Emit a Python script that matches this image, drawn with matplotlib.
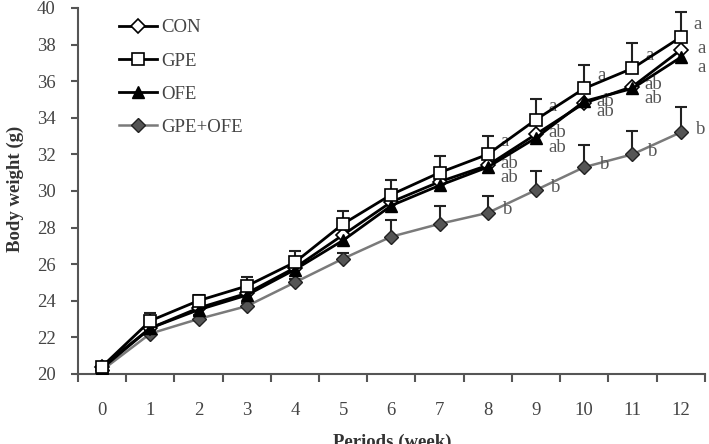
import matplotlib.pyplot as plt
import numpy as np

weeks = np.arange(0, 13)

con = [20.4, 22.5, 23.6, 24.4, 25.8, 27.6, 29.4, 30.5, 31.4, 33.1, 34.8, 35.7, 37.7]
gpe = [20.4, 22.9, 24.0, 24.8, 26.1, 28.2, 29.8, 31.0, 32.0, 33.9, 35.6, 36.7, 38.4]
ofe = [20.3, 22.5, 23.5, 24.3, 25.7, 27.3, 29.2, 30.3, 31.3, 32.9, 34.9, 35.6, 37.3]
gpe_ofe = [20.2, 22.2, 23.0, 23.7, 25.0, 26.3, 27.5, 28.2, 28.8, 30.05, 31.3, 32.0, 33.2]

gpe_err = [0.2, 0.4, 0.3, 0.5, 0.6, 0.7, 0.8, 0.9, 1.0, 1.1, 1.3, 1.4, 1.4]
gpe_ofe_err = [0.1, 0.2, 0.2, 0.2, 0.2, 0.3, 0.9, 0.95, 0.9, 1.05, 1.2, 1.3, 1.4]

# significance letters from week 8 on
letter_weeks = [8, 9, 10, 11, 12]
con_letters = ["ab", "ab", "ab", "ab", "a"]
gpe_letters = ["a", "a", "a", "a", "a"]
ofe_letters = ["ab", "ab", "ab", "ab", "a"]
gpe_ofe_letters = ["b", "b", "b", "b", "b"]

plt.rcParams["font.family"] = "Liberation Serif"

fig = plt.figure(figsize=(7.09, 4.44), dpi=100)
ax = fig.add_axes([0.110, 0.158, 0.884, 0.824])

axis_col = "#555555"
text_col = "#444444"
fs = 13.5

l4, = ax.plot(weeks, gpe_ofe, color="#7a7a7a", lw=1.8, marker="D", ms=7,
              mfc="#555555", mec="#222222", mew=1.0, zorder=2)
ax.errorbar(weeks, gpe_ofe, yerr=[np.zeros(13), gpe_ofe_err], fmt="none",
            ecolor="#222222", elinewidth=1.5, capsize=4, capthick=1.5, zorder=1)
l1, = ax.plot(weeks, con, color="black", lw=2, marker="D", ms=7,
              mfc="white", mec="black", mew=1.2, zorder=3)
l3, = ax.plot(weeks, ofe, color="black", lw=2, marker="^", ms=8,
              mfc="black", mec="black", zorder=4)
ax.errorbar(weeks, gpe, yerr=[np.zeros(13), gpe_err], fmt="none",
            ecolor="#222222", elinewidth=1.5, capsize=4, capthick=1.5, zorder=4)
l2, = ax.plot(weeks, gpe, color="black", lw=2, marker="s", ms=8.5,
              mfc="white", mec="black", mew=1.2, zorder=5)

letter_sets = [
    (gpe, gpe_letters, 17, 13),
    (con, con_letters, 21, 2),
    (ofe, ofe_letters, 21, -10),
    (gpe_ofe, gpe_ofe_letters, 20, 3),
]
for values, letters, dx, dy in letter_sets:
    for w, lab in zip(letter_weeks, letters):
        ax.annotate(lab, (w, values[w]), xytext=(dx, dy), textcoords="offset pixels",
                    ha="center", va="center", fontsize=fs, color="#555555")

ax.set_xlim(-0.5, 12.5)
ax.set_ylim(20, 40)
ax.set_yticks(range(20, 41, 2))
ax.set_xticks(weeks)
ax.set_xticks(np.arange(-0.5, 12.6, 1), minor=True)

ax.tick_params(axis="x", which="major", length=0, pad=20, labelsize=fs, labelcolor=text_col)
ax.tick_params(axis="x", which="minor", length=6, width=1.5, color=axis_col, direction="out")
ax.tick_params(axis="y", length=5, width=1.5, color=axis_col, pad=11,
               labelsize=fs, labelcolor=text_col)

for side in ["top", "right"]:
    ax.spines[side].set_visible(False)
for side in ["left", "bottom"]:
    ax.spines[side].set_color(axis_col)
    ax.spines[side].set_linewidth(1.5)

fig.text(0.022, 0.575, "Body weight (g)", rotation=90, ha="center", va="center",
         fontsize=fs, fontweight="bold", color="#333333")
fig.text(0.553, -0.006, "Periods (week)", ha="center", va="baseline",
         fontsize=fs, fontweight="bold", color="#333333")

leg = ax.legend([l1, l2, l3, l4], ["CON", "GPE", "OFE", "GPE+OFE"],
                loc="upper left", bbox_to_anchor=(0.054, 0.99), frameon=False,
                fontsize=fs, handlelength=2.0, handletextpad=0.25,
                labelspacing=0.86, borderaxespad=0)
for t in leg.get_texts():
    t.set_color("#444444")

fig.savefig("out.png", dpi=100)
